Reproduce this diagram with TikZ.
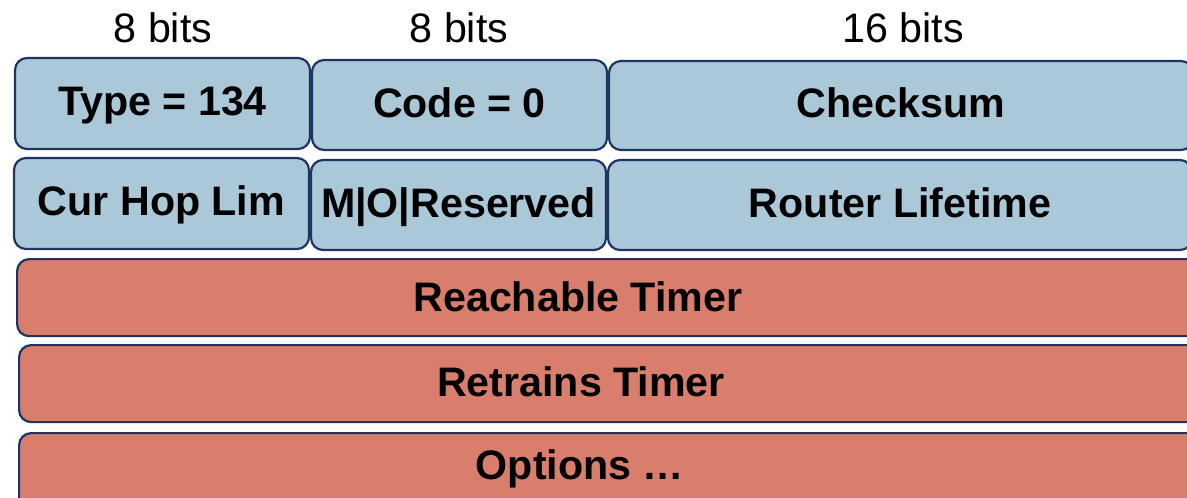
\documentclass[tikz,border=0pt]{standalone}
\usepackage{fontspec}
\setmainfont{Liberation Sans}
\definecolor{fieldblue}{RGB}{170,200,216}
\definecolor{fieldred}{RGB}{217,125,108}
\definecolor{fieldedge}{RGB}{31,52,96}
\begin{document}
\begin{tikzpicture}[x=1pt,y=-1pt,
  field/.style={draw=fieldedge, line width=2.2pt, rounded corners=12pt,
    inner sep=0pt, font={\fontsize{41.2}{48}\selectfont\bfseries},
    text height=24pt, text depth=0pt},
  bluefield/.style={field, fill=fieldblue},
  redfield/.style={field, fill=fieldred},
  fieldtext/.style={inner sep=0pt, font={\fontsize{41.2}{48}\selectfont\bfseries},
    text height=29.5pt, text depth=0pt},
  widthtext/.style={inner sep=0pt, font={\fontsize{41.2}{48}\selectfont},
    text height=29.5pt, text depth=0pt}]
\useasboundingbox (0,0) rectangle (1187,498);
\clip (0,0) rectangle (1187,498);

% bit widths of the header fields
\node[widthtext] (w1) at (163,28) {8 bits};
\node[widthtext] (w2) at (459,28) {8 bits};
\node[widthtext] (w3) at (903,28) {16 bits};

% first word
\node[bluefield, minimum width=295, minimum height=91] (type) at (162.5,103.5) {Type = 134};
\node[bluefield, minimum width=295, minimum height=90] (code) at (459.5,105) {Code = 0};
\node[bluefield, minimum width=584, minimum height=89] (csum) at (901,105.5) {Checksum};

% second word
\node[bluefield, minimum width=295, minimum height=91] (hop) at (161.5,203.5) {Cur Hop Lim};
\node[bluefield, minimum width=295, minimum height=90] (flags) at (458.5,205) {M|O|Reserved};
\node[bluefield, minimum width=584, minimum height=90] (life) at (900,205) {Router Lifetime};

% 32-bit timers and options
\node[redfield, minimum width=1190, minimum height=77, anchor=north west] (reach) at (16,258) {};
\node[fieldtext] (reacht) at (578,297) {Reachable Timer};
\node[redfield, minimum width=1190, minimum height=77, anchor=north west] (retr) at (18,344) {};
\node[fieldtext] (retrt) at (581,382) {Retrains Timer};
\node[redfield, minimum width=1190, minimum height=90, anchor=north west] (opts) at (18,432) {};
\node[fieldtext] (optst) at (580,465) {Options …};
\end{tikzpicture}
\end{document}
